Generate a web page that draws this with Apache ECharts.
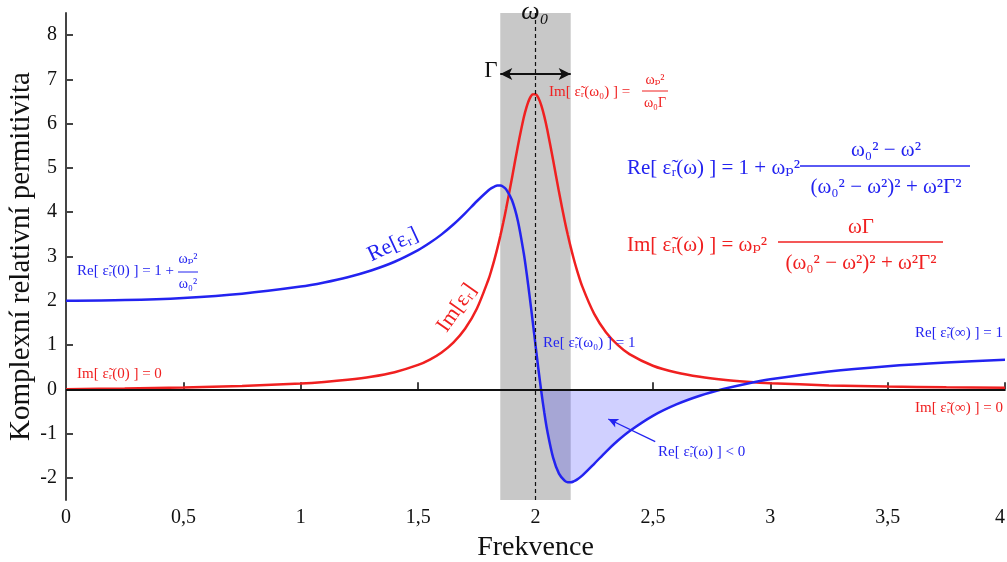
<!DOCTYPE html>
<html><head><meta charset="utf-8">
<script src="https://cdn.jsdelivr.net/npm/echarts@6/dist/echarts.min.js"></script>
<style>html,body{margin:0;padding:0;background:#fff}#c{width:1007px;height:562px}</style>
</head><body><div id="c"></div><script>
// ---- data ----
const freq = [0,0.25,0.5,0.75,1,1.1,1.2,1.3,1.4,1.5,1.55,1.6,1.65,1.7,1.75,1.8,1.8125,1.825,1.8375,1.85,1.8625,1.875,1.9,1.925,1.95,1.9625,1.975,1.9875,2,2.0125,2.025,2.0375,2.05,2.075,2.1,2.125,2.1375,2.15,2.1625,2.175,2.2,2.25,2.3,2.35,2.4,2.5,2.6,2.7,2.8,2.9,3,3.25,3.5,3.75,4];
const reEps = [2,2.016,2.065,2.159,2.32,2.414,2.532,2.684,2.881,3.144,3.309,3.5,3.722,3.975,4.248,4.497,4.545,4.58,4.601,4.601,4.575,4.516,4.27,3.802,3.072,2.612,2.101,1.557,1,0.453,-0.061,-0.527,-0.932,-1.542,-1.903,-2.068,-2.097,-2.099,-2.08,-2.046,-1.944,-1.682,-1.411,-1.163,-0.947,-0.6,-0.342,-0.146,0.006,0.127,0.225,0.404,0.523,0.607,0.67];
const imEps = [0,0.019,0.043,0.076,0.132,0.167,0.216,0.284,0.387,0.551,0.672,0.833,1.055,1.367,1.819,2.485,2.696,2.928,3.183,3.461,3.761,4.083,4.78,5.497,6.138,6.387,6.565,6.662,6.667,6.58,6.408,6.166,5.868,5.178,4.46,3.793,3.49,3.211,2.954,2.72,2.313,1.704,1.29,1.002,0.796,0.533,0.379,0.282,0.217,0.172,0.139,0.089,0.061,0.044,0.033];
const reZeroCrossings = [2.0235, 2.796];
const yTicks = [-2,-1,0,1,2,3,4,5,6,7,8];
const omega0 = 2;
const gammaBand = [1.85, 2.15];
const gammaArrowY = 7.12;
const negArrow = [[2.51,-1.18],[2.31,-0.67]];

// ---- chart ----
const BLUE = '#2323f0', RED = '#f02020';
const FONT = '"Liberation Serif", "DejaVu Serif", serif';
const reData = freq.map((x,i)=>[x, reEps[i]]);
const imData = freq.map((x,i)=>[x, imEps[i]]);
const negData = [[reZeroCrossings[0],0]]
  .concat(freq.map((x,i)=>[x,reEps[i]]).filter(p=>p[0]>reZeroCrossings[0]&&p[0]<reZeroCrossings[1]))
  .concat([[reZeroCrossings[1],0]]);

function T(x,y,text,color,size,align,extra){
  return Object.assign({type:'text', x:x, y:y, z:50, style:{text:text, fill:color, font: size+'px '+FONT, align:align||'left', verticalAlign:'middle'}}, extra||{});
}
function L(x1,x2,y,color,w){
  return {type:'line', z:50, shape:{x1:x1,y1:y,x2:x2,y2:y}, style:{stroke:color, lineWidth:w||1}};
}
const eps = 'ε\u0303ᵣ';
const S = 15, SF = 14;
const graphics = [
  {type:'text', x:535, y:12, z:50, style:{text:'ω₀', fill:'#111', font:'italic 26px '+FONT, align:'center', verticalAlign:'middle'}},
  T(491, 71, 'Γ', '#111', 23, 'center'),
  // blue formula
  T(627, 168, 'Re[ '+eps+'(ω) ] = 1 + ωₚ²', BLUE, 21),
  T(886, 150, 'ω₀² − ω²', BLUE, 21, 'center'),
  L(800, 970, 166, BLUE, 1.3),
  T(886, 187, '(ω₀² − ω²)² + ω²Γ²', BLUE, 21, 'center'),
  // red formula
  T(627, 245, 'Im[ '+eps+'(ω) ] = ωₚ²', RED, 21),
  T(861, 227, 'ωΓ', RED, 21, 'center'),
  L(778, 943, 242, RED, 1.3),
  T(861, 263, '(ω₀² − ω²)² + ω²Γ²', RED, 21, 'center'),
  // Im peak
  T(549, 92, 'Im[ '+eps+'(ω₀) ] =', RED, S),
  T(655, 80, 'ωₚ²', RED, SF, 'center'),
  L(642, 668, 91, RED, 1),
  T(655, 103, 'ω₀Γ', RED, SF, 'center'),
  // Re(0)
  T(77, 271, 'Re[ '+eps+'(0) ] = 1 +', BLUE, S),
  T(188, 259, 'ωₚ²', BLUE, SF, 'center'),
  L(178, 198, 272, BLUE, 1),
  T(188, 284, 'ω₀²', BLUE, SF, 'center'),
  T(77, 374, 'Im[ '+eps+'(0) ] = 0', RED, S),
  T(543, 343, 'Re[ '+eps+'(ω₀) ] = 1', BLUE, S),
  T(1003, 333, 'Re[ '+eps+'(∞) ] = 1', BLUE, S, 'right'),
  T(1003, 408, 'Im[ '+eps+'(∞) ] = 0', RED, S, 'right'),
  T(658, 452, 'Re[ '+eps+'(ω) ] < 0', BLUE, S),
  // curve labels
  T(393, 245, 'Re[εᵣ]', BLUE, 22, 'center', {rotation: 25*Math.PI/180}),
  T(457, 308, 'Im[εᵣ]', RED, 22, 'center', {rotation: 55*Math.PI/180})
];

const chart = echarts.init(document.getElementById('c'), null, {renderer:'canvas'});
chart.setOption({
  animation:false,
  backgroundColor:'#fff',
  grid:{left:66, right:2, top:13, bottom:62, outerBoundsMode:'none', containLabel:false},
  xAxis:{
    type:'value', min:0, max:4, interval:0.5,
    name:'Frekvence', nameLocation:'middle', nameGap:34,
    nameTextStyle:{fontFamily:FONT, fontSize:28, color:'#111'},
    axisLine:{lineStyle:{color:'#444', width:2}},
    axisTick:{inside:true, length:7, lineStyle:{color:'#444', width:2}},
    axisLabel:{fontFamily:FONT, fontSize:20, color:'#111', margin:8, alignMaxLabel:'right', formatter:v=>String(v).replace('.',',')},
    splitLine:{show:false}
  },
  yAxis:{
    type:'value', min:-2.5, max:8.5,
    name:'Komplexní relativní permitivita', nameLocation:'middle', nameGap:30, nameRotate:90, nameMoveOverlap:false,
    nameTextStyle:{fontFamily:FONT, fontSize:29, color:'#111'},
    axisLine:{show:true, lineStyle:{color:'#444', width:2}},
    axisTick:{show:true, inside:true, length:7, customValues:yTicks, lineStyle:{color:'#444', width:2}},
    axisLabel:{fontFamily:FONT, fontSize:20, color:'#111', margin:9, customValues:yTicks},
    splitLine:{show:false}
  },
  series:[
    {type:'line', data:[], z:0, silent:true,
      markArea:{silent:true, itemStyle:{color:'#c8c8c8'}, data:[[{xAxis:gammaBand[0]},{xAxis:gammaBand[1]}]]},
      markLine:{silent:true, symbol:'none', label:{show:false}, lineStyle:{color:'#111', type:[4,3], width:1.2},
        data:[{xAxis:omega0}]}
    },
    {type:'line', data:negData, z:1, smooth:0.3, symbol:'none', lineStyle:{width:0},
      areaStyle:{color:'rgba(60,60,255,0.35)', origin:0}, silent:true},
    {type:'line', data:[], z:2, silent:true,
      markLine:{silent:true, label:{show:false}, animation:false,
        data:[
          [{coord:[0,0], symbol:'none', lineStyle:{color:'#111', width:2, type:'solid'}},{coord:[4,0], symbol:'none'}],
          [{coord:[gammaBand[0],gammaArrowY], symbol:'arrow', symbolSize:[9,12], lineStyle:{color:'#111', width:2, type:'solid'}},{coord:[gammaBand[1],gammaArrowY], symbol:'arrow', symbolSize:[9,12]}],
          [{coord:negArrow[0], symbol:'none', lineStyle:{color:BLUE, width:1.3, type:'solid'}},{coord:negArrow[1], symbol:'arrow', symbolSize:[7,10]}]
        ]}
    },
    {name:'Im', type:'line', data:imData, z:3, smooth:0.3, symbol:'none', lineStyle:{color:RED, width:2.5}},
    {name:'Re', type:'line', data:reData, z:4, smooth:0.3, symbol:'none', lineStyle:{color:BLUE, width:2.5}}
  ],
  graphic: graphics
});
</script></body></html>
